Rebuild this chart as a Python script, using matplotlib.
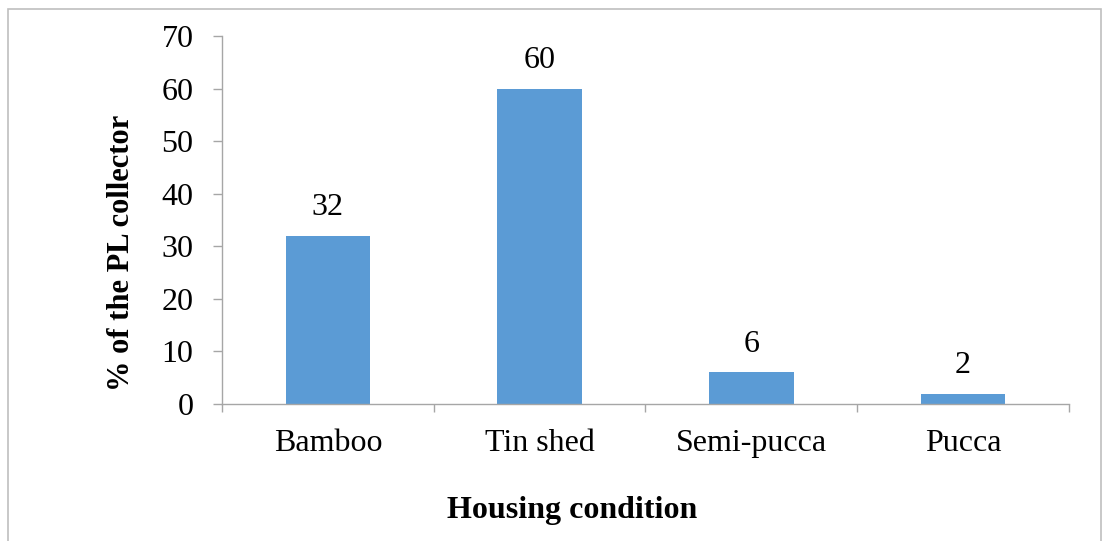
import matplotlib.pyplot as plt
from matplotlib.patches import Rectangle

categories = ["Bamboo", "Tin shed", "Semi-pucca", "Pucca"]
values = [32, 60, 6, 2]
yticks = [0, 10, 20, 30, 40, 50, 60, 70]

plt.rcParams['font.family'] = ['Liberation Serif', 'DejaVu Serif']

fig = plt.figure(figsize=(11.02, 5.41), dpi=100)
ax = fig.add_axes([0.2015, 0.2532, 0.7685, 0.6803])

# light border around the chart area
fig.patches.append(Rectangle((8 / 1102, -0.1), 1093 / 1102, 1.1 - 9 / 541,
                             transform=fig.transFigure, fill=False,
                             edgecolor='#BFBFBF', linewidth=1.2, clip_on=False))

x = list(range(len(categories)))
bars = ax.bar(x, values, width=0.4, color='#5B9BD5')

for xi, v in zip(x, values):
    ax.annotate(str(v), (xi, v), xytext=(0, 10), textcoords='offset points',
                ha='center', va='bottom', fontsize=23)

ax.set_xlim(-0.5, len(categories) - 0.5)
ax.set_ylim(0, 70)
ax.set_yticks(yticks)
ax.tick_params(axis='y', labelsize=23, length=6.5, width=1, color='#A6A6A6', pad=14)

ax.set_xticks(x)
ax.set_xticklabels(categories)
ax.set_xticks([i - 0.5 for i in range(len(categories) + 1)], minor=True)
ax.tick_params(axis='x', which='major', length=0, labelsize=23, pad=18)
ax.tick_params(axis='x', which='minor', length=6, width=1, color='#A6A6A6')

for side in ['top', 'right']:
    ax.spines[side].set_visible(False)
for side in ['left', 'bottom']:
    ax.spines[side].set_color('#A6A6A6')
    ax.spines[side].set_linewidth(1)

ax.set_ylabel("% of the PL collector", fontsize=22, fontweight='bold', va='center')
ax.yaxis.set_label_coords(-0.119, 0.41)
ax.set_xlabel("Housing condition", fontsize=23, fontweight='bold', va='center')
ax.xaxis.set_label_coords(0.413, -0.288)

fig.savefig("out.png", dpi=100)
